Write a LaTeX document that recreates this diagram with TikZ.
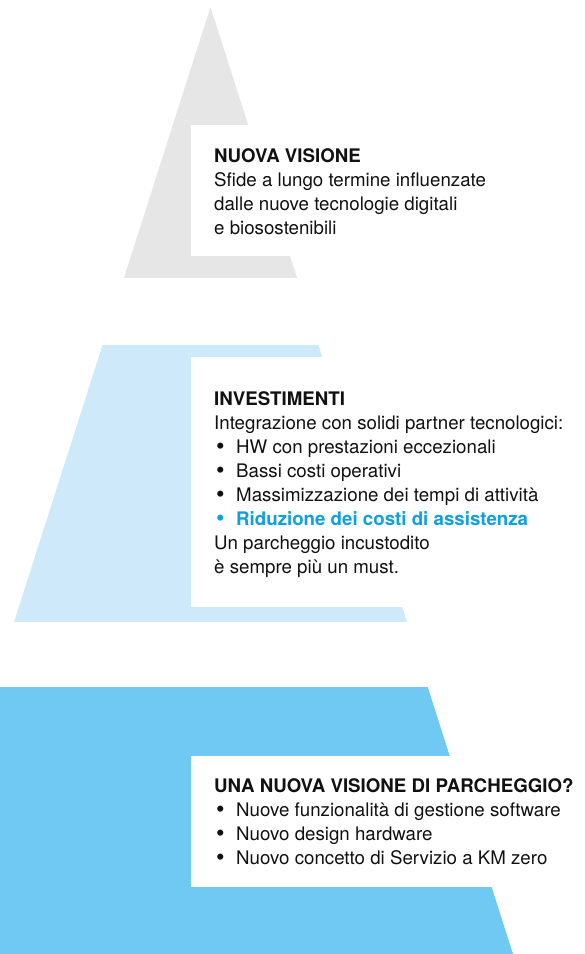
\documentclass[tikz,border=0pt]{standalone}
\usepackage{fontspec}
\setmainfont{TeX Gyre Heros}
\usepackage{tikz}
\usetikzlibrary{positioning}

\definecolor{bandgrey}{HTML}{E6E6E6}
\definecolor{bandlight}{HTML}{CDE9FA}
\definecolor{bandblue}{HTML}{6FC9F2}
\definecolor{accent}{HTML}{0EA0E0}
\definecolor{ink}{HTML}{111111}

\tikzset{
  panel/.style={fill=white},
  blocktext/.style={anchor=north west, inner sep=0pt, align=left, text=ink,
                    font=\fontsize{18.7}{24}\selectfont},
}
% bullet with a fixed indent
\newcommand{\itm}{\makebox[22pt][l]{\hspace{2pt}\smash{\raisebox{-0.8pt}{\scalebox{1.3}{\textbullet}}}}}

\begin{document}
\begin{tikzpicture}[x=1pt, y=-1pt]
  \useasboundingbox (0,0) rectangle (585,954);

  % pyramid cut into three bands
  \coordinate (apex) at (210.5,7);
  \coordinate (baseL) at (-92,954);
  \coordinate (baseR) at (513,954);
  \begin{scope}
    \clip (apex) -- (baseR) -- (baseL) -- cycle;
    \fill[bandgrey] (-100,0) rectangle (585,278);
    \fill[bandlight] (-100,345) rectangle (585,622);
    \fill[bandblue] (-100,687) rectangle (585,960);
  \end{scope}

  % white panels behind the text
  \fill[panel] (191,125) rectangle (585,256);
  \fill[panel] (191,357) rectangle (585,607);
  \fill[panel] (191,756) rectangle (585,887);

  \node[blocktext] (vision) at (214,148.6) {%
    \textbf{NUOVA VISIONE}\\
    Sfide a lungo termine influenzate\\
    dalle nuove tecnologie digitali\\
    e biosostenibili};

  \node[blocktext] (invest) at (214,391.6) {%
    \textbf{INVESTIMENTI}\\
    Integrazione con solidi partner tecnologici:\\
    \itm HW con prestazioni eccezionali\\
    \itm Bassi costi operativi\\
    \itm Massimizzazione dei tempi di attività\\
    {\color{accent}\itm\textbf{Riduzione dei costi di assistenza}}\\
    Un parcheggio incustodito\\
    è sempre più un must.};

  \node[blocktext] (parking) at (214,778.6) {%
    \textbf{UNA NUOVA VISIONE DI PARCHEGGIO?}\\
    \itm Nuove funzionalità di gestione software\\
    \itm Nuovo design hardware\\
    \itm Nuovo concetto di Servizio a KM zero};

\end{tikzpicture}
\end{document}
